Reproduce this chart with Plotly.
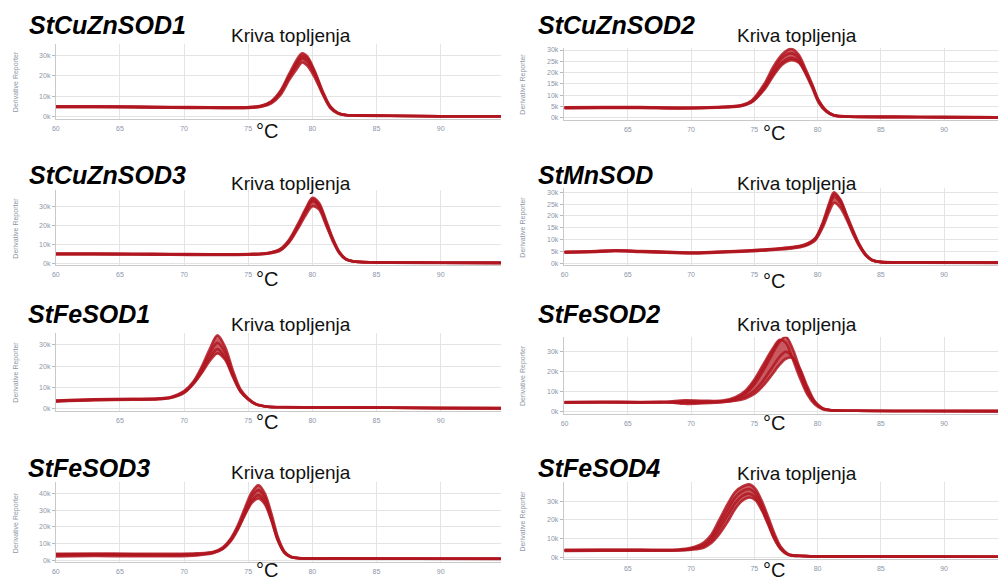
import plotly.graph_objects as go

W, H = 998, 580
RED = "rgba(176,22,32,0.85)"
RED_FILL = "rgba(180,26,36,0.72)"
FONT = "Liberation Sans"

# ---------------- DATA (values in thousands) ----------------
gene_names = ["StCuZnSOD1", "StCuZnSOD2", "StCuZnSOD3", "StMnSOD",
              "StFeSOD1", "StFeSOD2", "StFeSOD3", "StFeSOD4"]
subtitle = "Kriva topljenja"
x_unit = "°C"
y_title = "Derivative Reporter"

temps_cuznsod1 = [60, 63, 66, 69, 72, 75, 76, 76.8, 77.5, 78.2, 78.8, 79.2, 79.6, 80.2, 80.8, 81.4, 82, 82.6, 83.5, 86, 90, 94.7]
cuznsod1_a = [5.0, 5.0, 4.9, 4.7, 4.6, 4.6, 5.3, 7.5, 12.5, 21, 28, 31, 29.5, 22, 12.5, 5, 1.8, 0.8, 0.6, 0.4, 0.2, 0.2]
cuznsod1_b = [4.8, 4.8, 4.7, 4.5, 4.4, 4.4, 5.0, 7.0, 11.5, 19.5, 25.5, 28.5, 27, 20.5, 11.5, 4.5, 1.6, 0.8, 0.5, 0.4, 0.2, 0.2]
cuznsod1_c = [4.6, 4.6, 4.5, 4.3, 4.2, 4.2, 4.8, 6.5, 10.5, 18, 23.5, 26.5, 25, 19, 11, 4.2, 1.5, 0.7, 0.5, 0.3, 0.1, 0.1]
cuznsod1_d = [4.9, 4.9, 4.8, 4.6, 4.5, 4.5, 5.2, 7.2, 12, 20, 26.5, 29.5, 28.5, 21.5, 12, 4.8, 1.7, 0.8, 0.6, 0.4, 0.2, 0.2]

temps_cuznsod2 = [60, 63, 66, 69, 72, 74, 74.8, 75.8, 76.5, 77.2, 77.9, 78.5, 79.1, 79.6, 80.1, 80.7, 81.3, 82.5, 86, 90, 94.4]
cuznsod2_a = [4.6, 4.7, 4.7, 4.4, 4.7, 5.6, 7.6, 15, 22.5, 28, 30.5, 28, 21, 14.5, 7.5, 3, 1, 0.5, 0.3, 0.2, 0.1]
cuznsod2_b = [4.4, 4.5, 4.5, 4.2, 4.5, 5.4, 7.2, 14, 21, 26.5, 28.5, 26.5, 20, 13.5, 7, 2.8, 0.9, 0.4, 0.3, 0.2, 0.1]
cuznsod2_c = [4.2, 4.3, 4.3, 4.1, 4.4, 5.2, 6.8, 13, 19.5, 24.5, 26.5, 25, 19, 13, 6.5, 2.6, 0.9, 0.4, 0.2, 0.1, 0.1]
cuznsod2_d = [4.3, 4.4, 4.4, 4.3, 4.6, 5.3, 7.0, 12.5, 18.5, 23.5, 25.5, 24.5, 19.5, 14, 7.5, 3, 1, 0.5, 0.3, 0.2, 0.1]

temps_cuznsod3 = [60, 63, 66, 69, 72, 75, 76.5, 77.5, 78.2, 78.9, 79.5, 80, 80.5, 81.1, 81.6, 82.1, 82.6, 83.2, 85, 90, 94.7]
cuznsod3_a = [5.0, 5.0, 4.9, 4.8, 4.7, 4.8, 5.3, 7.5, 12.5, 21, 29, 34.5, 32, 22, 13, 6, 2.3, 0.9, 0.4, 0.2, 0.1]
cuznsod3_b = [4.8, 4.8, 4.7, 4.6, 4.5, 4.6, 5.1, 7.0, 11.5, 19.5, 27.5, 32.5, 30, 20.5, 12, 5.5, 2.1, 0.8, 0.4, 0.2, 0.1]
cuznsod3_c = [4.6, 4.6, 4.5, 4.4, 4.3, 4.4, 4.9, 6.6, 11, 18.5, 25.5, 30, 28.5, 19.5, 11.5, 5.2, 2, 0.8, 0.3, 0.1, 0.1]
cuznsod3_d = [4.9, 4.9, 4.8, 4.7, 4.6, 4.7, 5.2, 7.2, 12, 20, 28, 33.5, 31, 21, 12.5, 5.8, 2.2, 0.9, 0.4, 0.2, 0.1]

temps_mnsod = [60, 62, 64, 66, 68, 70, 72, 74, 76, 78, 79, 79.8, 80.4, 80.9, 81.3, 81.8, 82.3, 82.8, 83.3, 83.8, 84.3, 85, 88, 94.4]
mnsod_a = [4.8, 5.0, 5.4, 5.1, 4.8, 4.5, 4.8, 5.2, 5.8, 6.8, 7.9, 10.5, 17, 25, 30, 27, 20.5, 14, 8, 3.8, 1.4, 0.5, 0.3, 0.2]
mnsod_b = [4.6, 4.8, 5.2, 4.9, 4.6, 4.3, 4.6, 5.0, 5.6, 6.5, 7.5, 10, 16, 23.5, 28, 25.5, 19.5, 13, 7.5, 3.5, 1.3, 0.4, 0.3, 0.2]
mnsod_c = [4.4, 4.6, 5.0, 4.7, 4.4, 4.1, 4.4, 4.8, 5.4, 6.2, 7.2, 9.5, 15, 21.5, 25.5, 23.5, 18.5, 12.5, 7.2, 3.3, 1.2, 0.4, 0.2, 0.1]
mnsod_d = [4.7, 4.9, 5.3, 5.0, 4.7, 4.4, 4.7, 5.1, 5.7, 6.7, 7.7, 10.2, 16.5, 24, 29, 26.5, 20, 13.5, 7.8, 3.6, 1.3, 0.5, 0.3, 0.2]

temps_fesod1 = [60, 63, 66, 68, 69, 70, 70.7, 71.4, 72, 72.6, 73.2, 73.8, 74.4, 75, 75.6, 76.5, 78, 82, 86, 90, 94.7]
fesod1_a = [3.8, 4.4, 4.6, 4.8, 5.5, 8.2, 12.5, 20, 28, 34.5, 29, 18, 9, 4.8, 2.2, 1, 0.7, 0.6, 0.5, 0.3, 0.2]
fesod1_b = [3.6, 4.2, 4.4, 4.6, 5.3, 7.8, 12, 19, 26, 31, 26.5, 16.5, 8.5, 4.5, 2.1, 0.9, 0.6, 0.5, 0.4, 0.3, 0.2]
fesod1_c = [3.4, 4.0, 4.2, 4.4, 5.1, 7.4, 11.5, 17.5, 24, 28, 24, 15.5, 8, 4.3, 2.0, 0.9, 0.6, 0.5, 0.4, 0.2, 0.1]
fesod1_d = [3.5, 4.1, 4.3, 4.5, 5.2, 7.6, 11.5, 17, 22.5, 26, 23, 15, 8, 4.4, 2.0, 0.9, 0.6, 0.5, 0.4, 0.2, 0.1]

temps_fesod2 = [60, 63, 66, 68, 69.5, 71, 72.5, 73.5, 74.3, 75, 75.7, 76.4, 77, 77.5, 78, 78.6, 79.2, 79.8, 80.4, 81, 83, 88, 94.4]
fesod2_a = [4.8, 4.9, 4.8, 4.9, 5.6, 5.4, 5.5, 7.2, 10.5, 16, 23.5, 31, 36, 34.5, 27, 17, 8.5, 3.5, 1.2, 0.6, 0.4, 0.3, 0.2]
fesod2_b = [4.6, 4.7, 4.6, 4.7, 5.0, 5.0, 5.2, 6.5, 9, 13.5, 20.5, 28.5, 35, 37.5, 32, 21.5, 11, 4.5, 1.5, 0.7, 0.4, 0.3, 0.2]
fesod2_c = [4.5, 4.6, 4.5, 4.6, 4.4, 4.5, 4.9, 5.8, 7.5, 10.5, 15.5, 22, 27.5, 30, 27.5, 20, 11, 4.5, 1.5, 0.7, 0.4, 0.3, 0.2]
fesod2_d = [4.7, 4.8, 4.7, 4.8, 3.9, 4.2, 4.7, 5.4, 6.6, 8.8, 13, 18.5, 23.5, 26.5, 27, 21.5, 12.5, 5, 1.7, 0.8, 0.4, 0.3, 0.2]

temps_fesod3 = [60, 63, 66, 69, 71, 72.3, 73, 73.6, 74.2, 74.8, 75.3, 75.8, 76.3, 76.8, 77.3, 77.8, 78.3, 79, 82, 88, 94.7]
fesod3_a = [3.8, 3.9, 3.8, 3.7, 4.0, 5.0, 7.5, 12.5, 21, 32.5, 41, 45, 40, 28, 14, 5.5, 2.2, 1.2, 1.0, 0.9, 0.8]
fesod3_b = [3.0, 3.1, 3.0, 2.9, 3.3, 4.5, 7.0, 12, 20, 30.5, 38.5, 42, 37.5, 26, 13, 5, 2, 1.1, 0.9, 0.8, 0.8]
fesod3_c = [2.2, 2.4, 2.3, 2.3, 2.8, 4.2, 6.5, 11, 18.5, 28.5, 36, 39, 35, 24.5, 12, 4.5, 1.8, 1.0, 0.9, 0.8, 0.7]
fesod3_d = [3.4, 3.5, 3.4, 3.3, 3.6, 4.7, 6.8, 11.5, 19, 28, 34.5, 37, 33.5, 24, 12, 4.8, 1.9, 1.1, 0.9, 0.8, 0.8]

temps_fesod4 = [60, 63, 66, 69, 70, 71, 71.6, 72.2, 72.9, 73.5, 74.1, 74.6, 75.1, 75.6, 76.1, 76.6, 77.1, 77.7, 79, 85, 94.4]
fesod4_a = [3.9, 4.0, 4.0, 4.1, 5.0, 7.8, 12, 19.5, 28.5, 35, 38, 39, 36.5, 30, 21.5, 12.5, 5.5, 1.6, 0.6, 0.4, 0.2]
fesod4_b = [3.6, 3.7, 3.7, 3.8, 4.6, 6.8, 10.5, 17, 25.5, 32, 35.5, 36.5, 34, 28, 19.5, 11, 4.8, 1.4, 0.6, 0.4, 0.2]
fesod4_c = [3.3, 3.4, 3.4, 3.5, 4.2, 5.8, 9, 14.5, 22.5, 29, 33, 34, 32, 26, 18, 10, 4.3, 1.2, 0.5, 0.3, 0.2]
fesod4_d = [3.5, 3.6, 3.6, 3.7, 4.0, 5.0, 7.5, 12, 19, 26, 30.5, 32, 30.5, 25, 17.5, 9.5, 4.2, 1.2, 0.5, 0.3, 0.2]

x_tick_values = [60, 65, 70, 75, 80, 85, 90]
y_ticks_10k = [0, 10, 20, 30]
y_ticks_5k = [0, 5, 10, 15, 20, 25, 30]
y_ticks_40k = [0, 10, 20, 30, 40]

panel_data = [
    (temps_cuznsod1, [cuznsod1_a, cuznsod1_b, cuznsod1_c, cuznsod1_d]),
    (temps_cuznsod2, [cuznsod2_a, cuznsod2_b, cuznsod2_c, cuznsod2_d]),
    (temps_cuznsod3, [cuznsod3_a, cuznsod3_b, cuznsod3_c, cuznsod3_d]),
    (temps_mnsod, [mnsod_a, mnsod_b, mnsod_c, mnsod_d]),
    (temps_fesod1, [fesod1_a, fesod1_b, fesod1_c, fesod1_d]),
    (temps_fesod2, [fesod2_a, fesod2_b, fesod2_c, fesod2_d]),
    (temps_fesod3, [fesod3_a, fesod3_b, fesod3_c, fesod3_d]),
    (temps_fesod4, [fesod4_a, fesod4_b, fesod4_c, fesod4_d]),
]
panel_yticks = [y_ticks_10k, y_ticks_5k, y_ticks_10k, y_ticks_5k,
                y_ticks_10k, y_ticks_10k, y_ticks_40k, y_ticks_10k]
panel_show60 = [True, False, True, True, False, True, True, False]

# ---------------- LAYOUT GEOMETRY (pixels) ----------------
# (x0, x1, x_at60, px_per_degree, top, bottom, y_zero, px_per_k)
geom = [
    (52, 499, 52, 12.88, 43, 118, 116, 2.05),
    (562, 998, 562.8, 12.7, 47, 119, 117, 2.26),
    (52, 499, 52, 12.88, 190, 265, 263, 1.90),
    (562, 998, 562.8, 12.7, 188, 265, 263, 2.37),
    (52, 499, 52, 12.88, 333, 411, 409, 2.13),
    (562, 998, 562.8, 12.7, 337, 414, 412, 2.00),
    (52, 499, 52, 12.88, 483, 563, 561, 1.67),
    (562, 998, 562.8, 12.7, 483, 560, 558, 1.87),
]
title_pos = [(23, 24), (534, 24), (23, 175), (534, 175),
             (22, 314), (534, 314), (22, 469), (534, 469)]
sub_pos = [(288, 35), (796, 35), (288, 183), (796, 183),
           (288, 325), (796, 325), (288, 473), (796, 474)]
unit_pos = [(251, 130), (760, 132), (251, 279), (760, 281),
            (251, 422), (760, 423), (251, 571), (760, 571)]
ytitle_x = [12, 521]

fig = go.Figure()
layout = dict(width=W, height=H, margin=dict(l=0, r=0, t=0, b=0), autosize=False,
              paper_bgcolor="white", plot_bgcolor="white", showlegend=False,
              font=dict(family=FONT))
annotations = []


def px_x(p):
    return p / W


def px_y(p):
    return 1 - p / H


for i, ((temps, curves), g) in enumerate(zip(panel_data, geom)):
    x0, x1, x60, ppd, top, bot, yzero, ppk = g
    xr = [60 + (x0 - x60) / ppd, 60 + (x1 - x60) / ppd]
    yr = [(yzero - bot) / ppk, (yzero - top) / ppk]
    n = i + 1
    xa = "x" if n == 1 else f"x{n}"
    ya = "y" if n == 1 else f"y{n}"
    # order curves from lowest to highest peak so the band between them is filled
    ordered = sorted(curves, key=max)
    for k, c in enumerate(ordered):
        fig.add_trace(go.Scatter(x=temps, y=c, mode="lines", xaxis=xa, yaxis=ya,
                                 line=dict(color=RED, width=2.6, shape="spline", smoothing=0.9),
                                 fill=None if k == 0 else "tonexty", fillcolor=RED_FILL,
                                 hoverinfo="skip"))
    xt = [("" if (v == 60 and not panel_show60[i]) else str(v)) for v in x_tick_values]
    layout["xaxis" if n == 1 else f"xaxis{n}"] = dict(
        domain=[px_x(x0), px_x(x1)], range=xr, anchor=ya,
        tickvals=x_tick_values, ticktext=xt, showgrid=True, gridcolor="#e4e4e4", gridwidth=1,
        zeroline=False, showline=True, linecolor="#c9c9c9", ticks="outside", ticklen=3,
        tickcolor="rgba(0,0,0,0)", tickfont=dict(size=7, color="#8c96a8", family=FONT))
    yt = panel_yticks[i]
    layout["yaxis" if n == 1 else f"yaxis{n}"] = dict(
        domain=[px_y(bot), px_y(top)], range=yr, anchor=xa,
        tickvals=yt, ticktext=[f"{v}k" for v in yt], showgrid=True, gridcolor="#e4e4e4",
        zeroline=False, showline=True, linecolor="#c9c9c9", ticks="outside", ticklen=3,
        tickcolor="#b8b8b8", tickfont=dict(size=7, color="#8c96a8", family=FONT))

    tx, ty = title_pos[i]
    annotations.append(dict(text="<b><i>" + gene_names[i] + "</i></b>", x=px_x(tx), y=px_y(ty),
                            xref="paper", yref="paper", xanchor="left", yanchor="middle",
                            showarrow=False, font=dict(size=25, color="black", family=FONT)))
    sx, sy = sub_pos[i]
    annotations.append(dict(text=subtitle, x=px_x(sx), y=px_y(sy), xref="paper", yref="paper",
                            xanchor="center", yanchor="middle", showarrow=False,
                            font=dict(size=19, color="#111111", family=FONT)))
    ux, uy = unit_pos[i]
    annotations.append(dict(text=x_unit, x=px_x(ux), y=px_y(uy), xref="paper", yref="paper",
                            xanchor="left", yanchor="middle", showarrow=False,
                            font=dict(size=20, color="#111111", family=FONT)))
    annotations.append(dict(text=y_title, x=px_x(ytitle_x[i % 2]), y=px_y((top + bot) / 2),
                            xref="paper", yref="paper", xanchor="center", yanchor="middle",
                            textangle=-90, showarrow=False,
                            font=dict(size=7, color="#8c96a8", family=FONT)))

layout["annotations"] = annotations
fig.update_layout(**layout)
fig.write_html("out.html", config={"displayModeBar": False},
               post_script="document.body.style.margin='0';document.body.style.overflow='hidden';")
